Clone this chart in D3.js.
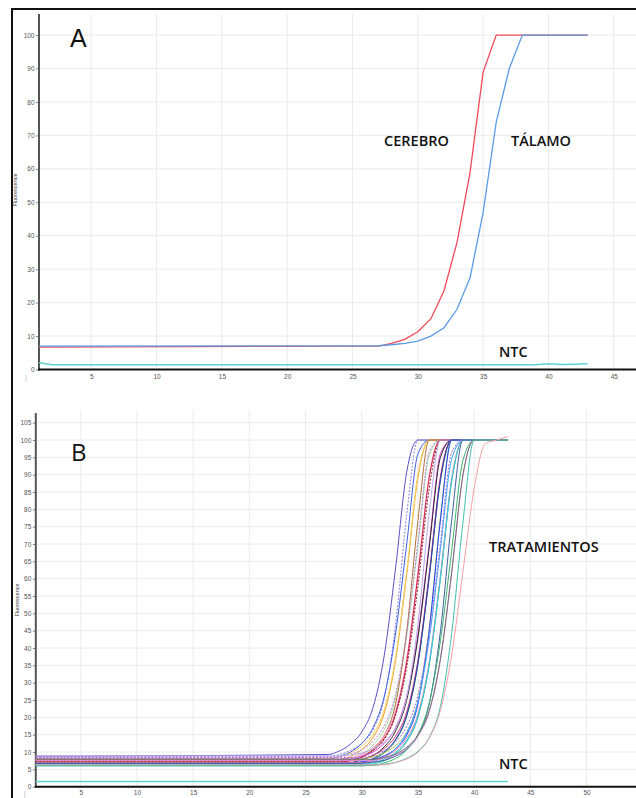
<!DOCTYPE html>
<html>
<head>
<meta charset="utf-8">
<script src="https://cdn.jsdelivr.net/npm/d3@7"></script>
<style>
  body { margin: 0; background: #fff; }
  svg { display: block; }
</style>
</head>
<body>
<svg id="chart" width="636" height="798"></svg>
<script>
// ---------- DATA ----------
// Panel A
const xTicksA = [5, 10, 15, 20, 25, 30, 35, 40, 45];
const yTicksA = [0, 10, 20, 30, 40, 50, 60, 70, 80, 90, 100];
const cyclesA = [1, 27, 28, 29, 30, 31, 32, 33, 34, 35, 36, 37, 38, 39, 40, 41, 42, 43];
const cerebro = [6.7, 7.0, 7.8, 9.0, 11.3, 15.2, 23.5, 38, 59, 89, 100, 100, 100, 100, 100, 100, 100, 100];
const talamo  = [7.0, 7.1, 7.4, 7.8, 8.5, 10.0, 12.5, 18, 27.5, 47, 74, 90, 100, 100, 100, 100, 100, 100];
const ntcCyclesA = [1, 2, 39, 40, 41, 42, 43];
const ntcA = [2.0, 1.4, 1.4, 1.7, 1.5, 1.6, 1.7];

// Panel B
const xTicksB = [5, 10, 15, 20, 25, 30, 35, 40, 45, 50];
const yTicksB = [0, 5, 10, 15, 20, 25, 30, 35, 40, 45, 50, 55, 60, 65, 70, 75, 80, 85, 90, 95, 100, 105];
const riseCyclesB = [27, 28, 29, 30, 31, 32, 33, 34, 35, 36, 37, 38, 39, 40, 41, 42, 43];
const colorsB = ["#5b4fc4", "#8a7fe0", "#3f5fe0", "#f0a020", "#f2d36a", "#a5e0a0", "#b0703a", "#c080f0",
                 "#ff8fd0", "#d02040", "#902030", "#e040e0", "#2a2a2a", "#b8a8e8", "#2e8b57", "#e0306a",
                 "#1f3fbf", "#a8c060", "#2040ff", "#40a8ff", "#9a70d8", "#20b0a0", "#ff7aa8", "#30d0e0",
                 "#4060a0", "#3cb371", "#e090e0", "#707070", "#40c0b0", "#f4a0a8"];
const dashedB = [0, 1, 0, 0, 0, 0, 0, 1, 0, 0, 1, 0, 0, 0, 0, 0, 0, 0, 0, 0, 1, 0, 0, 0, 0, 0, 0, 0, 0, 0];
const baselineB = [8.8, 8.5, 8.0, 7.2, 8.2, 7.5, 6.8, 8.6, 7.8, 7.0, 7.3, 8.0, 7.0, 8.9, 6.3, 7.5,
                   6.6, 7.8, 6.9, 6.5, 8.4, 6.0, 7.0, 6.4, 6.8, 6.1, 7.6, 7.9, 6.2, 6.3];
const riseB = [
  [9.3, 10.3, 12.3, 15.8, 22.8, 37.8, 62.8, 90.8, 100, 100, 100, 100, 100, 100, 100, 100, 100],
  [8.8, 9.3, 10.5, 12.5, 16.5, 25.5, 46.5, 78.5, 100, 100, 100, 100, 100, 100, 100, 100, 100],
  [8.0, 8.8, 10.0, 12.5, 17.0, 26.0, 44.0, 70.0, 96.0, 100, 100, 100, 100, 100, 100, 100, 100],
  [7.2, 7.7, 8.7, 10.7, 14.2, 21.2, 36.2, 61.2, 89.2, 100, 100, 100, 100, 100, 100, 100, 100],
  [8.2, 8.7, 9.7, 11.7, 15.2, 22.2, 37.2, 62.2, 90.2, 100, 100, 100, 100, 100, 100, 100, 100],
  [7.5, 7.5, 8.3, 9.5, 12.0, 16.5, 25.5, 43.5, 69.5, 95.5, 100, 100, 100, 100, 100, 100, 100],
  [6.8, 7.1, 7.6, 8.8, 10.8, 14.8, 23.8, 44.8, 76.8, 100, 100, 100, 100, 100, 100, 100, 100],
  [8.6, 8.6, 9.4, 10.6, 13.1, 17.6, 26.6, 44.6, 70.6, 96.6, 100, 100, 100, 100, 100, 100, 100],
  [7.8, 7.8, 8.3, 9.3, 11.3, 14.8, 21.8, 36.8, 61.8, 89.8, 100, 100, 100, 100, 100, 100, 100],
  [7.0, 7.0, 7.5, 8.5, 10.5, 14.0, 21.0, 36.0, 61.0, 89.0, 100, 100, 100, 100, 100, 100, 100],
  [7.3, 7.3, 7.7, 8.6, 10.4, 13.6, 20.5, 34.5, 58.0, 86.0, 100, 100, 100, 100, 100, 100, 100],
  [8.0, 8.0, 8.0, 8.8, 10.0, 12.5, 17.0, 26.0, 44.0, 70.0, 96.0, 100, 100, 100, 100, 100, 100],
  [7.0, 7.0, 7.0, 7.8, 9.0, 11.5, 16.0, 25.0, 43.0, 69.0, 95.0, 100, 100, 100, 100, 100, 100],
  [8.9, 8.9, 9.2, 9.7, 10.9, 12.9, 16.9, 25.9, 46.9, 78.9, 100, 100, 100, 100, 100, 100, 100],
  [6.3, 6.3, 6.3, 6.8, 7.8, 9.8, 13.3, 20.3, 35.3, 60.3, 88.3, 100, 100, 100, 100, 100, 100],
  [7.5, 7.5, 7.5, 8.0, 9.0, 11.0, 14.5, 21.5, 36.5, 61.5, 89.5, 100, 100, 100, 100, 100, 100],
  [6.6, 6.6, 6.6, 7.1, 8.1, 10.1, 13.6, 20.6, 35.6, 60.6, 88.6, 100, 100, 100, 100, 100, 100],
  [7.8, 7.8, 7.8, 8.1, 8.6, 9.8, 11.8, 15.8, 24.8, 45.8, 77.8, 100, 100, 100, 100, 100, 100],
  [6.9, 6.9, 6.9, 7.2, 7.7, 8.9, 10.9, 14.9, 23.9, 44.9, 76.9, 100, 100, 100, 100, 100, 100],
  [6.5, 6.5, 6.5, 6.5, 7.3, 8.5, 11.0, 15.5, 24.5, 42.5, 68.5, 94.5, 100, 100, 100, 100, 100],
  [8.4, 8.4, 8.4, 8.4, 9.2, 10.4, 12.9, 17.4, 26.4, 44.4, 70.4, 96.4, 100, 100, 100, 100, 100],
  [6.0, 6.0, 6.0, 6.0, 6.5, 7.5, 9.5, 13.0, 20.0, 35.0, 60.0, 88.0, 100, 100, 100, 100, 100],
  [7.0, 7.0, 7.0, 7.0, 7.5, 8.5, 10.5, 14.0, 21.0, 36.0, 61.0, 89.0, 100, 100, 100, 100, 100],
  [6.4, 6.4, 6.4, 6.4, 6.9, 7.9, 9.9, 13.4, 20.4, 35.4, 60.4, 88.4, 100, 100, 100, 100, 100],
  [6.8, 6.8, 6.8, 6.8, 7.1, 7.6, 8.8, 10.8, 14.8, 23.8, 44.8, 76.8, 100, 100, 100, 100, 100],
  [6.1, 6.1, 6.1, 6.1, 6.1, 6.9, 8.1, 10.6, 15.1, 24.1, 42.1, 68.1, 94.1, 100, 100, 100, 100],
  [7.6, 7.6, 7.6, 7.6, 7.6, 8.1, 9.1, 11.1, 14.6, 21.6, 36.6, 61.6, 89.6, 100, 100, 100, 100],
  [7.9, 7.9, 7.9, 7.9, 7.9, 8.4, 9.4, 11.4, 14.9, 21.9, 36.9, 61.9, 89.9, 100, 100, 100, 100],
  [6.2, 6.2, 6.2, 6.2, 6.2, 6.5, 7.0, 8.2, 10.2, 14.2, 23.2, 44.2, 76.2, 100, 100, 100, 100],
  [6.3, 6.3, 6.3, 6.3, 6.3, 6.3, 7.0, 8.0, 10.0, 14.0, 22.0, 38.0, 62.0, 86.0, 99.0, 100, 101]
];
const ntcCyclesB = [1, 43];
const ntcB = [1.5, 1.5];

// ---------- DRAW ----------
const svg = d3.select("#chart");
const W = 636;
const tickFont = "'Liberation Sans', Arial, sans-serif";
const labelFont = "'Open Sans', 'Noto Sans', sans-serif";

// outer frame (top and left)
svg.append("line").attr("x1", 11).attr("x2", W).attr("y1", 9).attr("y2", 9)
  .attr("stroke", "#111").attr("stroke-width", 2);
svg.append("line").attr("x1", 12).attr("x2", 12).attr("y1", 8).attr("y2", 798)
  .attr("stroke", "#111").attr("stroke-width", 2);

function panel(cfg) {
  const g = svg.append("g");
  const x = d3.scaleLinear().domain(cfg.xDomain).range([cfg.left, W]);
  const y = d3.scaleLinear().domain(cfg.yDomain).range([cfg.bottom, cfg.top]);

  // grid
  g.append("g").selectAll("line").data(cfg.xTicks).join("line")
    .attr("x1", d => x(d)).attr("x2", d => x(d))
    .attr("y1", cfg.gridTop).attr("y2", cfg.bottom)
    .attr("stroke", "#ebebeb").attr("stroke-width", 1);
  g.append("g").selectAll("line").data(cfg.yTicks.filter(d => d > 0)).join("line")
    .attr("x1", cfg.left).attr("x2", W)
    .attr("y1", d => y(d)).attr("y2", d => y(d))
    .attr("stroke", "#ebebeb").attr("stroke-width", 1);

  // y axis
  const ya = g.append("g").attr("transform", `translate(${cfg.left},0)`)
    .call(d3.axisLeft(y).tickValues(cfg.yTicks).tickSize(3).tickPadding(1.5));
  ya.select(".domain").remove();
  ya.selectAll(".tick line").style("stroke", "#888");
  ya.selectAll(".tick text").style("fill", "#555").style("font-size", "6.5px").style("font-family", tickFont);
  g.append("line").attr("x1", cfg.left).attr("x2", cfg.left)
    .attr("y1", cfg.top).attr("y2", cfg.bottom + 1)
    .attr("stroke", "#555").attr("stroke-width", 2);

  // x axis
  const xa = g.append("g").attr("transform", `translate(0,${cfg.bottom})`)
    .call(d3.axisBottom(x).tickValues(cfg.xTicks).tickSize(0).tickPadding(cfg.xPad));
  xa.select(".domain").remove();
  xa.selectAll(".tick text").style("fill", "#555").style("font-size", "6.5px").style("font-family", tickFont);
  g.append("line").attr("x1", cfg.left - 1).attr("x2", W)
    .attr("y1", cfg.bottom).attr("y2", cfg.bottom)
    .attr("stroke", "#111").attr("stroke-width", 2);
  g.append("text").attr("x", x(0)).attr("y", cfg.bottom + cfg.xPad + 5)
    .attr("text-anchor", "middle").style("fill", "#bbb")
    .style("font-size", "7px").style("font-family", tickFont).text("|");

  // y label
  g.append("text")
    .attr("transform", `translate(${cfg.yLabelX},${cfg.yLabelY}) rotate(-90)`)
    .attr("text-anchor", "middle").style("fill", "#444")
    .style("font-size", "5.5px").style("font-family", tickFont)
    .text("Fluorescence");

  return { g, x, y };
}

// ---- Panel A ----
const A = panel({
  xDomain: [1, 46.7], yDomain: [0, 106.3],
  left: 39, top: 14, bottom: 369.5, gridTop: 14,
  xTicks: xTicksA, yTicks: yTicksA, xPad: 5,
  yLabelX: 17, yLabelY: 190
});
const lineA = d3.line().x(d => A.x(d[0])).y(d => A.y(d[1]));
A.g.append("path").datum(ntcCyclesA.map((c, i) => [c, ntcA[i]]))
  .attr("d", lineA).attr("fill", "none").attr("stroke", "#5fd3cf").attr("stroke-width", 1.5);
A.g.append("path").datum(cyclesA.map((c, i) => [c, cerebro[i]]))
  .attr("d", lineA).attr("fill", "none").attr("stroke", "#f04a5a").attr("stroke-width", 1.3);
A.g.append("path").datum(cyclesA.map((c, i) => [c, talamo[i]]))
  .attr("d", lineA).attr("fill", "none").attr("stroke", "#5a9be6").attr("stroke-width", 1.3);

A.g.append("text").attr("x", 70).attr("y", 47).style("fill", "#111")
  .style("font-size", "25px").style("font-family", tickFont).text("A");
const bigLabel = (g, txt, x0, yb) => g.append("text").attr("x", x0).attr("y", yb)
  .style("fill", "#111").style("font-size", "14.5px").style("font-weight", "600")
  .style("font-family", labelFont).text(txt);
bigLabel(A.g, "CEREBRO", 384, 146);
bigLabel(A.g, "TÁLAMO", 511, 146);
bigLabel(A.g, "NTC", 499, 357);

// ---- Panel B ----
const B = panel({
  xDomain: [1, 54.4], yDomain: [0, 107.8],
  left: 35.8, top: 413, bottom: 786.7, gridTop: 410,
  xTicks: xTicksB, yTicks: yTicksB, xPad: 4,
  yLabelX: 19, yLabelY: 600
});
const lineB = d3.line().x(d => B.x(d[0])).y(d => B.y(d[1])).curve(d3.curveMonotoneX);
B.g.append("path").datum(ntcCyclesB.map((c, i) => [c, ntcB[i]]))
  .attr("d", lineB).attr("fill", "none").attr("stroke", "#5fd3cf").attr("stroke-width", 1.5);
riseB.forEach((vals, k) => {
  const pts = [[1, baselineB[k]]].concat(riseCyclesB.map((c, i) => [c, vals[i]]));
  B.g.append("path").datum(pts)
    .attr("d", lineB).attr("fill", "none")
    .attr("stroke", colorsB[k]).attr("stroke-width", 1)
    .attr("stroke-dasharray", dashedB[k] ? "2,1.5" : null);
});

B.g.append("text").attr("x", 71).attr("y", 461).style("fill", "#111")
  .style("font-size", "24px").style("font-family", labelFont).text("B");
bigLabel(B.g, "TRATAMIENTOS", 489, 552);
bigLabel(B.g, "NTC", 499, 769);
</script>
</body>
</html>
